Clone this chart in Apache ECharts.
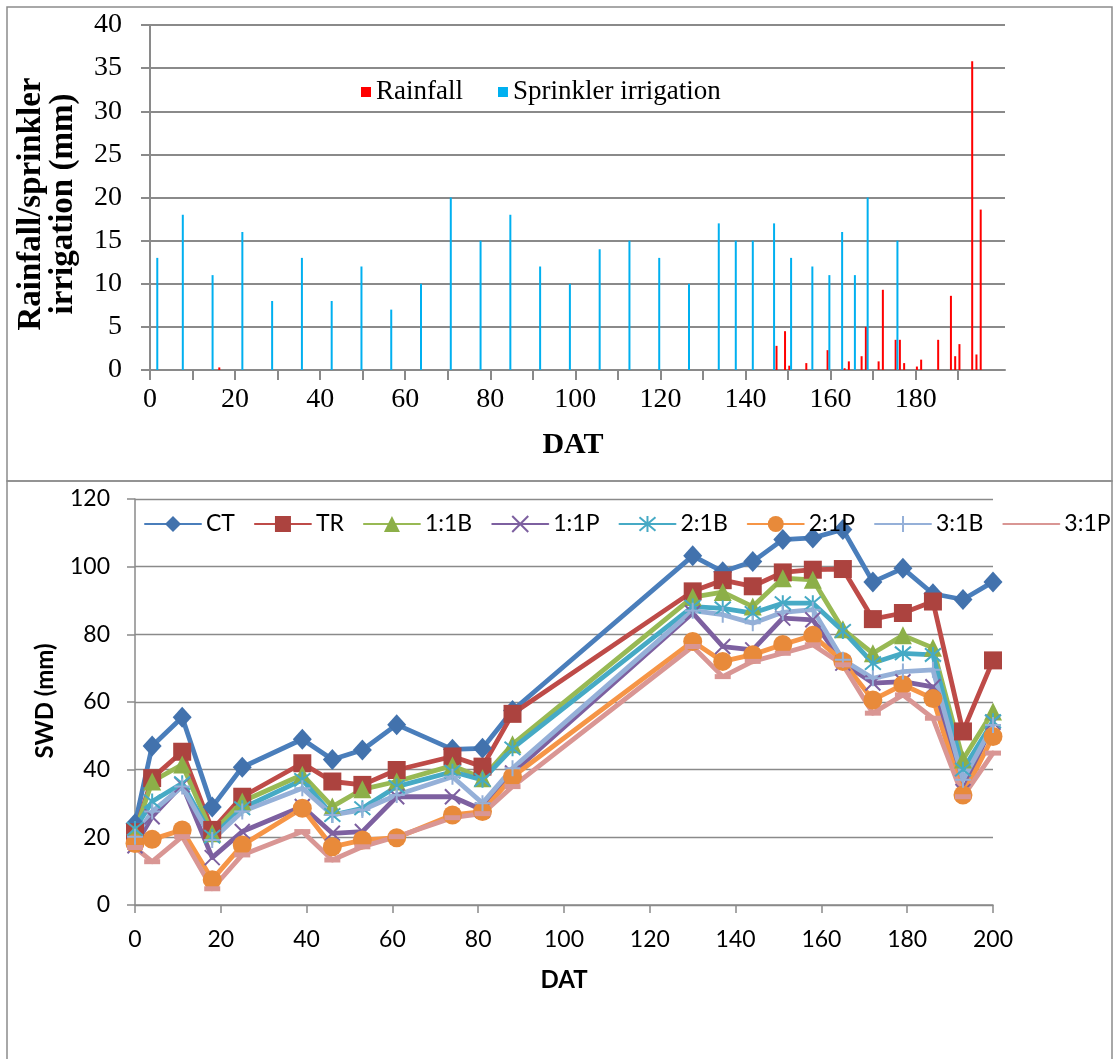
<!DOCTYPE html>
<html>
<head>
<meta charset="utf-8">
<script src="https://cdn.jsdelivr.net/npm/echarts@6/dist/echarts.min.js"></script>
<style>
  html, body { margin: 0; padding: 0; background: #fff; }
  #chart { width: 1119px; height: 1059px; }
</style>
</head>
<body>
<div id="chart"></div>
<script>
// ---- Daily water inputs (mm) against days after transplanting (DAT) ----
const irrigationDays = [1, 7, 14, 21, 28, 35, 42, 49, 56, 63, 70, 77, 84, 91, 98, 105, 112, 119, 126,
                        133, 137, 141, 146, 150, 155, 159, 162, 165, 168, 175];
const irrigationMm   = [13, 18, 11, 16, 8, 13, 8, 12, 7, 10, 20, 15, 18, 12, 10, 14, 15, 13, 10,
                        17, 15, 15, 17, 13, 12, 11, 16, 11, 20, 15];

const rainDays = [16, 147, 149, 150, 154, 159, 163, 164, 167, 168, 171, 172, 175, 176, 177,
                  180, 181, 185, 188, 189, 190, 193, 194, 195];
const rainMm   = [0.3, 2.8, 4.5, 0.5, 0.8, 2.3, 0.2, 1.0, 1.6, 5.0, 1.0, 9.3, 3.5, 3.5, 0.8,
                  0.4, 1.2, 3.5, 8.6, 1.6, 3.0, 35.8, 1.8, 18.6];

const waterTickDays  = [0, 10, 20, 30, 40, 50, 60, 70, 80, 90, 100, 110, 120, 130, 140, 150, 160, 170, 180, 190];
const waterLabelDays = [0, 20, 40, 60, 80, 100, 120, 140, 160, 180];

// ---- Soil water deficit, SWD (mm) ----
const swdDays = [0, 4, 11, 18, 25, 39, 46, 53, 61, 74, 81, 88, 130, 137, 144, 151, 158, 165, 172, 179, 186, 193, 200];
const swdCT   = [24, 47, 55.5, 29, 40.7, 49, 43, 45.8, 53.3, 46, 46.3, 57.5, 103.2, 98.5, 101.5, 108, 108.5, 111, 95.5, 99.5, 92, 90.3, 95.5];
const swdTR   = [21.5, 37.5, 45.3, 22.2, 32, 41.9, 36.5, 35.5, 39.9, 43.9, 40.9, 56.5, 92.7, 96, 94.2, 98.3, 99.1, 99.3, 84.5, 86.3, 89.7, 51.3, 72.3];
const swd11B  = [21.5, 36.5, 41.5, 21.2, 30.6, 38.5, 29.1, 34.2, 36.5, 41.2, 37.5, 47.5, 91, 92.5, 88.2, 96.6, 96.1, 81.5, 74.4, 79.7, 76, 43, 57.2];
const swd11P  = [17.5, 26.1, 35.5, 14, 21.7, 29.1, 21.2, 21.7, 32, 32, 28.1, 39, 86.3, 76.4, 75.4, 84.8, 84.3, 71.5, 65.6, 66, 64.5, 33.5, 54];
const swd21B  = [22.5, 30.6, 36, 20.2, 28.6, 37, 26.6, 28.6, 35, 39.4, 37, 46.3, 88.2, 87.7, 86.3, 89.2, 89.2, 81, 71.5, 74.4, 73.9, 40, 54.3];
const swd21P  = [18.2, 19.4, 22.2, 7.5, 17.7, 28.6, 17.2, 19.2, 19.9, 26.6, 27.6, 37.9, 77.9, 72, 74, 77, 79.7, 72, 60.6, 65.1, 61, 32.5, 49.8];
const swd31B  = [20.2, 27.6, 35, 19.2, 27.6, 34.5, 26.6, 28.1, 32.5, 37.9, 30.1, 40.4, 87, 85.8, 83.3, 86.5, 87.3, 72.5, 67, 69, 69.5, 37, 53.2];
const swd31P  = [17, 12.8, 20.2, 4.8, 14.8, 21.7, 13.3, 17.2, 20.2, 25.8, 27, 35, 76.4, 67.5, 72, 74.4, 76.9, 71, 56.7, 62.1, 55.2, 32, 44.9];

const treatmentNames = ['CT', 'TR', '1:1B', '1:1P', '2:1B', '2:1P', '3:1B', '3:1P'];
const treatmentValues = [swdCT, swdTR, swd11B, swd11P, swd21B, swd21P, swd31B, swd31P];

const swdTickDays = [0, 20, 40, 60, 80, 100, 120, 140, 160, 180, 200];

// ---- Styling ----
const GRID_GRAY = '#8a8a8a';
const SERIF = '"Liberation Serif", "Times New Roman", serif';
const SANS = 'Lato, "Open Sans", sans-serif';

const crossPath    = 'path://M0 0L10 10M10 0L0 10';
const asteriskPath = 'path://M0 0L10 10M10 0L0 10M5 -1L5 11';
const plusPath     = 'path://M5 0L5 10M0 5L10 5';

const treatmentStyle = {
  'CT':   { line: '#4A7EBB', fill: '#4272AD', symbol: 'diamond',    size: [19, 21], stroke: 0 },
  'TR':   { line: '#BE4B48', fill: '#AC433F', symbol: 'rect',       size: 18,       stroke: 0 },
  '1:1B': { line: '#98B954', fill: '#8CAF48', symbol: 'triangle',   size: 18,       stroke: 0 },
  '1:1P': { line: '#7D60A0', fill: '#7D60A0', symbol: crossPath,    size: 15,       stroke: 2 },
  '2:1B': { line: '#46AAC5', fill: '#46AAC5', symbol: asteriskPath, size: 16,       stroke: 2 },
  '2:1P': { line: '#F69546', fill: '#E88A3A', symbol: 'circle',     size: 19,       stroke: 0 },
  '3:1B': { line: '#95B0D8', fill: '#95B0D8', symbol: plusPath,     size: 16,       stroke: 2 },
  '3:1P': { line: '#D99694', fill: '#D99694', symbol: 'rect',       size: [16, 5],  stroke: 0 }
};

// Daily totals are drawn in the middle of their day.
const dayMid = d => d + 0.5;

const waterSeries = [
  {
    name: 'Rainfall', type: 'bar', xAxisIndex: 0, yAxisIndex: 0,
    data: rainDays.map((d, i) => [dayMid(d), rainMm[i]]),
    barWidth: 2, barGap: '-10%',
    itemStyle: { color: '#FF0000' }
  },
  {
    name: 'Sprinkler irrigation', type: 'bar', xAxisIndex: 0, yAxisIndex: 0,
    data: irrigationDays.map((d, i) => [dayMid(d), irrigationMm[i]]),
    barWidth: 2, barGap: '-10%',
    itemStyle: { color: '#00B0F0' }
  }
];

const swdSeries = treatmentNames.map((name, k) => {
  const st = treatmentStyle[name];
  return {
    name, type: 'line', xAxisIndex: 1, yAxisIndex: 1,
    data: swdDays.map((d, i) => [d, treatmentValues[k][i]]),
    symbol: st.symbol, symbolSize: st.size,
    showSymbol: true, showAllSymbol: true,
    lineStyle: { color: st.line, width: 4.8, join: 'round', cap: 'round' },
    itemStyle: { color: st.fill, borderColor: st.fill, borderWidth: st.stroke },
    emphasis: { disabled: true },
    animation: false
  };
});

const option = {
  backgroundColor: '#ffffff',
  animation: false,
  grid: [
    { left: 150, top: 25, width: 855, height: 345 },
    { left: 135, top: 499, width: 858, height: 406 }
  ],
  xAxis: [
    {
      type: 'value', gridIndex: 0, min: 0, max: 201,
      axisLine: { show: true, lineStyle: { color: GRID_GRAY, width: 2 } },
      axisTick: { show: true, customValues: waterTickDays, length: 10, lineStyle: { color: GRID_GRAY, width: 2 } },
      axisLabel: { customValues: waterLabelDays, margin: 16, color: '#000', fontFamily: SERIF, fontSize: 28 },
      splitLine: { show: false }
    },
    {
      type: 'value', gridIndex: 1, min: 0, max: 200, interval: 20,
      axisLine: { show: true, lineStyle: { color: GRID_GRAY, width: 1.5 } },
      axisTick: { show: true, customValues: swdTickDays, length: 8, lineStyle: { color: GRID_GRAY, width: 1.5 } },
      axisLabel: { customValues: swdTickDays, margin: 23, color: '#000', fontFamily: SANS, fontSize: 23 },
      splitLine: { show: false }
    }
  ],
  yAxis: [
    {
      type: 'value', gridIndex: 0, min: 0, max: 40, interval: 5,
      axisLine: { show: true, lineStyle: { color: GRID_GRAY, width: 2 } },
      axisTick: { show: true, length: 9, lineStyle: { color: GRID_GRAY, width: 2 } },
      axisLabel: { margin: 28, color: '#000', fontFamily: SERIF, fontSize: 28 },
      splitLine: { show: true, lineStyle: { color: GRID_GRAY, width: 2 } }
    },
    {
      type: 'value', gridIndex: 1, min: 0, max: 120, interval: 20,
      axisLine: { show: true, lineStyle: { color: GRID_GRAY, width: 1.5 } },
      axisTick: { show: true, length: 8, lineStyle: { color: GRID_GRAY, width: 1.5 } },
      axisLabel: { margin: 25, color: '#000', fontFamily: SANS, fontSize: 23 },
      splitLine: { show: true, lineStyle: { color: GRID_GRAY, width: 1.3 } }
    }
  ],
  legend: [
    {
      data: ['Rainfall', 'Sprinkler irrigation'],
      left: 356, top: 72, orient: 'horizontal',
      icon: 'rect', itemWidth: 10, itemHeight: 10, itemGap: 35,
      selectedMode: false,
      textStyle: { color: '#000', fontFamily: SERIF, fontSize: 27, lineHeight: 30 }
    },
    {
      data: treatmentNames.map(n => n === '3:1P'
        ? { name: n, itemStyle: { opacity: 0 } }
        : { name: n }),
      left: 139, top: 506, orient: 'horizontal',
      itemWidth: 56, itemHeight: 20, itemGap: 19,
      selectedMode: false,
      textStyle: { color: '#000', fontFamily: SANS, fontSize: 23, lineHeight: 26 }
    }
  ],
  graphic: [
    // panel frames
    { type: 'rect', shape: { x: 7, y: 7, width: 1105, height: 474 }, silent: true, z: -10,
      style: { fill: 'none', stroke: '#8c8c8c', lineWidth: 1.5 } },
    { type: 'rect', shape: { x: 7, y: 481, width: 1105, height: 600 }, silent: true, z: -10,
      style: { fill: 'none', stroke: '#8c8c8c', lineWidth: 1.5 } },
    // axis titles
    { type: 'text', x: 47, y: 204, rotation: Math.PI / 2, silent: true,
      style: { text: 'Rainfall/sprinkler\nirrigation (mm)', align: 'center', verticalAlign: 'middle',
               font: 'bold 33px ' + SERIF, lineHeight: 32, fill: '#000' } },
    { type: 'text', x: 573, y: 445, silent: true,
      style: { text: 'DAT', align: 'center', verticalAlign: 'middle', font: 'bold 30px ' + SERIF, fill: '#000' } },
    { type: 'text', x: 45, y: 701, rotation: Math.PI / 2, silent: true,
      style: { text: 'SWD (mm)', align: 'center', verticalAlign: 'middle', font: 'bold 24px ' + SANS, fill: '#000' } },
    { type: 'text', x: 564, y: 980, silent: true,
      style: { text: 'DAT', align: 'center', verticalAlign: 'middle', font: 'bold 24px ' + SANS, fill: '#000' } }
  ],
  series: waterSeries.concat(swdSeries)
};

const chart = echarts.init(document.getElementById('chart'), null, { renderer: 'canvas' });
chart.setOption(option);
</script>
</body>
</html>
